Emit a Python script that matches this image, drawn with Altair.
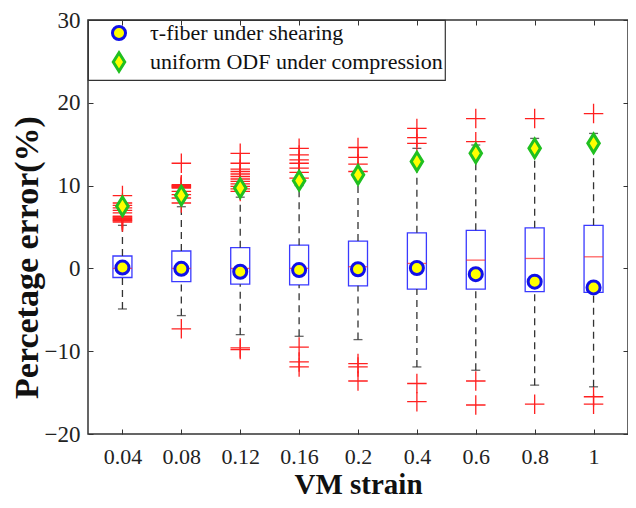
import altair as alt
import pandas as pd

cats = ["0.04", "0.08", "0.12", "0.16", "0.2", "0.4", "0.6", "0.8", "1"]
q1 = [-1.1, -1.6, -1.9, -2.0, -2.1, -2.5, -2.5, -2.8, -2.9]
q3 = [1.5, 2.1, 2.5, 2.8, 3.3, 4.3, 4.6, 4.9, 5.2]
med = [0.0, 0.0, 0.0, 0.0, 0.2, 0.6, 1.0, 1.2, 1.4]
w_lo = [-4.9, -5.7, -8.0, -8.2, -8.6, -11.9, -12.3, -14.1, -14.3]
w_hi = [5.2, 7.45, 8.6, 10.0, 10.9, 14.5, 14.9, 15.7, 16.3]
tau_mean = [0.1, -0.05, -0.4, -0.2, -0.1, 0.05, -0.7, -1.6, -2.3]
odf_mean = [7.5, 8.8, 9.7, 10.6, 11.3, 12.9, 13.9, 14.5, 15.1]
outliers = [
    [5.6, 5.7, 5.8, 5.9, 6.0, 6.1, 6.2, 6.3, 6.7, 7.0, 7.3, 7.6, 7.9, 8.8],
    [7.9, 8.5, 8.9, 9.3, 9.7, 9.8, 9.9, 10.0, 10.1, 12.7, -7.3],
    [9.3, 9.6, 9.9, 10.2, 10.5, 10.8, 11.1, 11.4, 11.7, 12.0, 12.7, 13.9, -9.6, -9.8],
    [10.9, 11.6, 12.1, 12.7, 13.1, 13.7, 14.5, -9.5, -11.3, -11.9],
    [11.7, 12.6, 13.4, 14.6, -11.5, -11.9, -13.6],
    [15.1, 15.8, 16.9, -13.9, -16.1],
    [15.3, 18.1, -13.6, -16.5],
    [18.1, -16.4],
    [18.7, -15.5, -16.4],
]
series = ["τ-fiber under shearing", "uniform ODF under compression"]

idx = list(range(1, len(cats) + 1))
box_df = pd.DataFrame({"idx": idx, "cat": cats, "q1": q1, "q3": q3, "med": med,
                       "lo": w_lo, "hi": w_hi})
out_df = pd.DataFrame([{"idx": i + 1, "v": v} for i, vals in enumerate(outliers) for v in vals])
mean_df = pd.DataFrame(
    [{"idx": i + 1, "series": series[0], "v": tau_mean[i]} for i in range(len(cats))]
    + [{"idx": i + 1, "series": series[1], "v": odf_mean[i]} for i in range(len(cats))]
)

SERIF = "Liberation Serif"
xscale = alt.Scale(domain=[0.5, 9.5], nice=False, zero=False)
yscale = alt.Scale(domain=[-20, 30], nice=False, zero=False)
label_expr = "[" + ",".join("'%s'" % c for c in cats) + "][datum.value-1]"

x_main = alt.X("idx:Q", scale=xscale, axis=alt.Axis(
    values=idx, labelExpr=label_expr, title="VM strain", orient="bottom",
    offset=-5, tickSize=5, domain=False, grid=False, labelPadding=12,
    labelFont=SERIF, labelFontSize=22, labelColor="#222", tickColor="#333",
    titleFont=SERIF, titleFontSize=29, titleFontWeight="bold", titleColor="#111",
    titlePadding=3))
y_main = alt.Y("q1:Q", scale=yscale, axis=alt.Axis(
    values=[-20, -10, 0, 10, 20, 30], title="Percetage error(%)", orient="left",
    offset=-5, tickSize=5, domain=False, grid=False, labelPadding=8,
    labelFont=SERIF, labelFontSize=23, labelColor="#222", tickColor="#333",
    titleFont=SERIF, titleFontSize=34, titleFontWeight="bold", titleColor="#111",
    titlePadding=0, titleY=237))

boxes = alt.Chart(box_df).mark_bar(size=19, fillOpacity=0, stroke="#3a3aff",
                                   strokeWidth=1.3).encode(
    x=x_main, y=y_main, y2="q3:Q")

nox = alt.X("idx:Q", scale=xscale, axis=None)

def noy(f):
    return alt.Y(f, scale=yscale, axis=None)

wh_up = alt.Chart(box_df).mark_rule(color="#333", strokeDash=[7, 5], strokeWidth=1.3).encode(
    x=nox, y=noy("q3:Q"), y2="hi:Q")
wh_lo = alt.Chart(box_df).mark_rule(color="#333", strokeDash=[7, 5], strokeWidth=1.3).encode(
    x=nox, y=noy("lo:Q"), y2="q1:Q")
cap_up = alt.Chart(box_df).mark_tick(orient="horizontal", size=9, thickness=1.3,
                                     color="#222").encode(x=nox, y=noy("hi:Q"))
cap_lo = alt.Chart(box_df).mark_tick(orient="horizontal", size=9, thickness=1.3,
                                     color="#222").encode(x=nox, y=noy("lo:Q"))
medians = alt.Chart(box_df).mark_tick(orient="horizontal", size=19, thickness=1.3,
                                      color="#ff2020").encode(x=nox, y=noy("med:Q"))

plus = "M-1,0L1,0M0,-1L0,1"
outs = alt.Chart(out_df).mark_point(shape=plus, size=380, filled=False, stroke="#ff2020",
                                    strokeWidth=1.3, opacity=1).encode(
    x=alt.X("idx:Q", scale=xscale, axis=alt.Axis(
        orient="top", values=idx, labels=False, title=None, offset=-5, tickSize=5,
        domain=False, grid=False, tickColor="#333")),
    y=alt.Y("v:Q", scale=yscale, axis=alt.Axis(
        orient="right", values=[-20, -10, 0, 10, 20, 30], labels=False, title=None,
        offset=-5, tickSize=5, domain=False, grid=False, tickColor="#333")))

diamond = "M0,-1.42L0.88,0L0,1.42L-0.88,0Z"
leg = alt.Legend(title=None, orient="top-left", offset=0, padding=2,
                 symbolOffset=18, labelOffset=20, rowPadding=0,
                 labelFont=SERIF, labelFontSize=22, labelColor="#111",
                 labelLimit=0, symbolSize=170, symbolStrokeWidth=3,
                 strokeColor="#333")
means = alt.Chart(mean_df).mark_point(filled=True, size=170, strokeWidth=3, opacity=1,
                                      fillOpacity=1).encode(
    x=nox, y=noy("v:Q"),
    shape=alt.Shape("series:N", scale=alt.Scale(domain=series, range=["circle", diamond]),
                    legend=leg),
    stroke=alt.Stroke("series:N", scale=alt.Scale(domain=series, range=["#1010e8", "#20c020"]),
                      legend=leg),
    fill=alt.Fill("series:N", scale=alt.Scale(domain=series, range=["#ffff00", "#ffff00"]),
                  legend=leg),
)

chart = alt.layer(boxes, wh_up, wh_lo, cap_up, cap_lo, outs, medians, means).resolve_axis(
    x="independent", y="independent"
).properties(
    width=540, height=414,
    autosize=alt.AutoSizeParams(type="none"),
    padding={"left": 80, "top": 12, "right": 0, "bottom": 66},
).configure(font=SERIF).configure_view(stroke="#333", strokeWidth=1.5).configure_legend(
    strokeWidth=1.2, labelFont=SERIF, labelFontSize=22, labelLimit=0)

chart.save("out.html", embed_options={"renderer": "svg", "actions": False})
